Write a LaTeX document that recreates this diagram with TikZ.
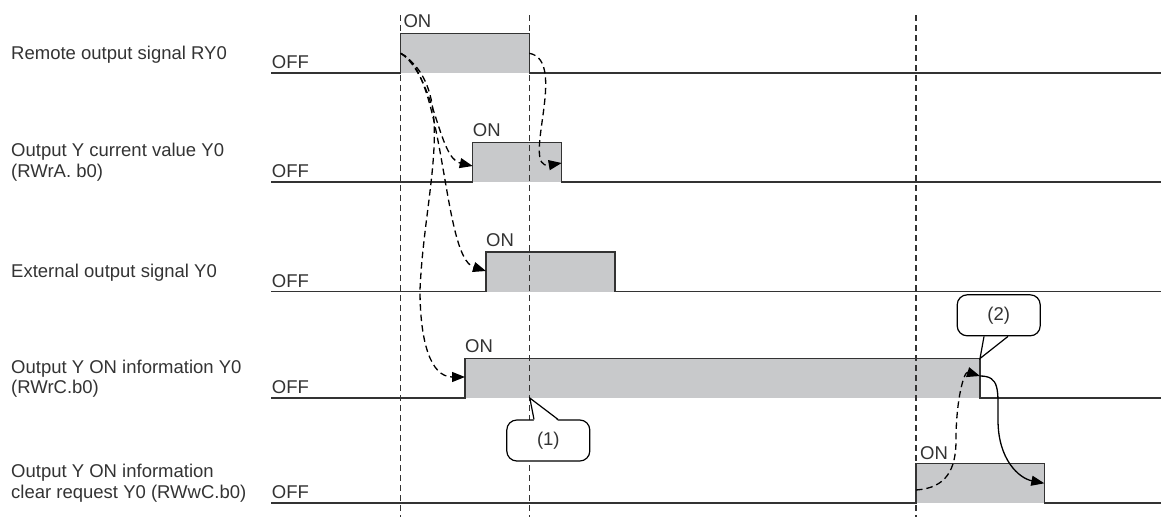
\documentclass[tikz,border=0pt]{standalone}
\usepackage{fontspec}
\setmainfont{Liberation Sans}
\usetikzlibrary{arrows.meta}
\definecolor{sigline}{HTML}{333333}
\definecolor{sighigh}{HTML}{C8C9CB}
\newcommand{\sigfont}{\fontsize{18.5}{20.5}\selectfont}

\tikzset{
  sig/.style={draw=sigline,line width=1.4pt},
  timeline/.style={draw=sigline,line width=1.2pt,dash pattern=on 6pt off 4pt},
  flow/.style={draw=black,line width=1.3pt,dash pattern=on 6.5pt off 4pt,-{Triangle[length=13pt,width=10pt]}},
  flowsolid/.style={draw=black,line width=1.3pt,-{Triangle[length=13pt,width=10pt]}},
  siglabel/.style={anchor=base west,align=left,inner sep=0pt,text=sigline,font=\sigfont},
  note/.style={draw=black,line width=1.2pt,fill=white,rounded corners=10pt,minimum width=83pt,minimum height=41pt,inner sep=0pt,text=sigline,font=\sigfont}
}

\begin{document}
\begin{tikzpicture}[x=1pt,y=-1pt]
    \useasboundingbox (0,0) rectangle (1161,517);

    % Names of the signals (placed on their last line)
    \node[siglabel] (lbl-ry) at (11,59) {Remote output signal RY0};
    \node[siglabel] (lbl-cur) at (11,177) {Output Y current value Y0\\(RWrA. b0)};
    \node[siglabel] (lbl-ext) at (11,277.5) {External output signal Y0};
    \node[siglabel] (lbl-info) at (11,393.5) {Output Y ON information Y0\\(RWrC.b0)};
    \node[siglabel] (lbl-clr) at (11,498) {Output Y ON information\\clear request Y0 (RWwC.b0)};

    % OFF level of each signal
    \node[siglabel] (off-ry) at (271.7,68.5) {OFF};
    \node[siglabel] (off-cur) at (271.7,177.5) {OFF};
    \node[siglabel] (off-ext) at (271.7,287) {OFF};
    \node[siglabel] (off-info) at (271.7,393.5) {OFF};
    \node[siglabel] (off-clr) at (271.7,498.5) {OFF};

    % ON parts (grey)
    \fill[sighigh] (400.7,33.5) rectangle (529.3,73);
    \fill[sighigh] (472.7,142.5) rectangle (561.7,182);
    \fill[sighigh] (486,252) rectangle (615,291.5);
    \fill[sighigh] (465,358.5) rectangle (980,398);
    \fill[sighigh] (916,463.5) rectangle (1044.3,503);

    % Waveforms
    \draw[sig] (271,73) -- (400.7,73) -- (400.7,33.5) -- (529.3,33.5) -- (529.3,73) -- (1161,73);
    \draw[sig] (271,182) -- (472.7,182) -- (472.7,142.5) -- (561.7,142.5) -- (561.7,182) -- (1161,182);
    \draw[sig] (271,291.5) -- (486,291.5) -- (486,252) -- (615,252) -- (615,291.5) -- (1161,291.5);
    \draw[sig] (271,398) -- (465,398) -- (465,358.5) -- (980,358.5) -- (980,398) -- (1161,398);
    \draw[sig] (271,503) -- (916,503) -- (916,463.5) -- (1044.3,463.5) -- (1044.3,503) -- (1161,503);

    % ON labels
    \node[siglabel] (on-ry) at (403.3,27.7) {ON};
    \node[siglabel] (on-cur) at (472.7,136.7) {ON};
    \node[siglabel] (on-ext) at (486,246) {ON};
    \node[siglabel] (on-info) at (465,352.5) {ON};
    \node[siglabel] (on-clr) at (920,459.5) {ON};

    % Timing lines
    \draw[timeline] (400.7,15) -- (400.7,517);
    \draw[timeline] (529.3,15) -- (529.3,517);
    \draw[timeline] (916,15) -- (916,517);

    % Edges that the arrows join
    \coordinate (ry-on) at (400.7,53.3);
    \coordinate (ry-off) at (529.3,53.3);
    \coordinate (cur-on) at (472.7,166);
    \coordinate (cur-off) at (561.7,163);
    \coordinate (ext-on) at (486,271);
    \coordinate (info-on) at (465,377);
    \coordinate (info-off) at (980,376);
    \coordinate (clr-on) at (916,490);
    \coordinate (clr-off) at (1044.3,483.3);

    % Arrows
    \draw[flow] (ry-on) .. controls +(34,22) and +(-35,-8) .. (cur-on);
    \draw[flow] (ry-on) .. controls +(45,20) and +(-44,-14) .. (ext-on);
    \draw[flow] (ry-on) .. controls +(59,37) and +(4,-100) .. (420,290) .. controls +(0,50) and +(-35,0) .. (info-on);
    \draw[flow] (ry-off) .. controls +(40,7) and +(-42,7) .. (cur-off);
    \draw[flow] (clr-on) .. controls +(30,-2) and +(0,30) .. (956,440) .. controls +(0,-40) and +(-16,-5) .. (info-off);
    \draw[flowsolid] (info-off) .. controls +(20,0) and +(0,-30) .. (998,420) .. controls +(0,40) and +(-25,-5) .. (clr-off);

    % Callouts
    \node[note] (note-1) at (548.3,440.5) {(1)};
    \coordinate (tip-1) at (529.8,398);
    \fill[white] ([xshift=-14.3pt,yshift=-1.5pt]note-1.north) -- (tip-1) -- ([xshift=9.7pt,yshift=-1.5pt]note-1.north) -- cycle;
    \draw[black,line width=1.2pt] ([xshift=-14.3pt]note-1.north) -- (tip-1) -- ([xshift=9.7pt]note-1.north);

    \node[note] (note-2) at (998.7,315.3) {(2)};
    \coordinate (tip-2) at (980,358.5);
    \fill[white] ([xshift=-14.7pt,yshift=-1.5pt]note-2.south) -- (tip-2) -- ([xshift=9.3pt,yshift=-1.5pt]note-2.south) -- cycle;
    \draw[black,line width=1.2pt] ([xshift=-14.7pt]note-2.south) -- (tip-2) -- ([xshift=9.3pt]note-2.south);

\end{tikzpicture}
\end{document}
